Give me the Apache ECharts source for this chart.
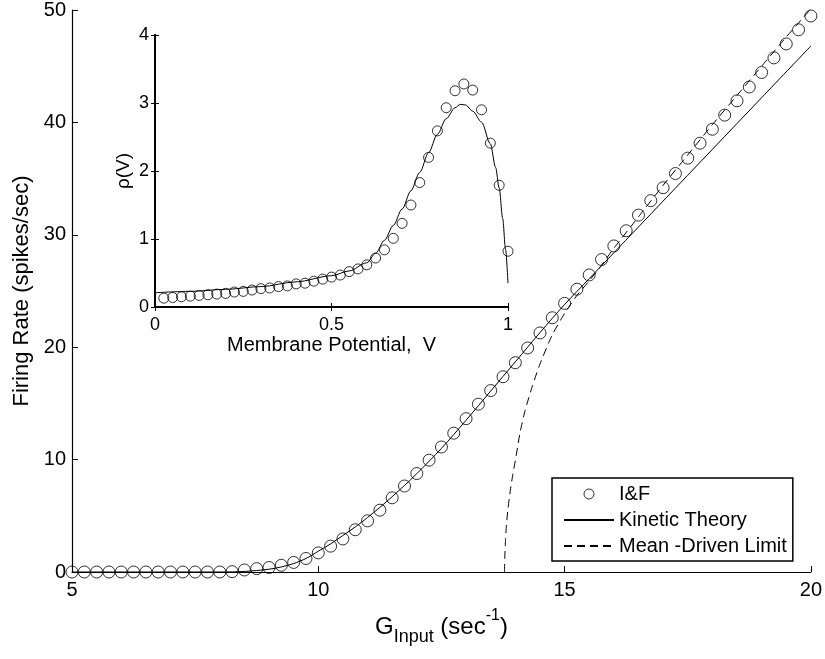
<!DOCTYPE html>
<html>
<head>
<meta charset="utf-8">
<script src="https://cdn.jsdelivr.net/npm/echarts@6/dist/echarts.min.js"></script>
<style>
  html, body { margin: 0; padding: 0; background: #fff; }
  #chart { width: 825px; height: 659px; }
</style>
</head>
<body>
<div id="chart"></div>
<script>
// main panel: I&F simulation points
const gInput = [5, 5.25, 5.5, 5.75, 6, 6.25, 6.5, 6.75, 7, 7.25, 7.5, 7.75, 8,
  8.25, 8.5, 8.75, 9, 9.25, 9.5, 9.75, 10, 10.25, 10.5, 10.75, 11, 11.25, 11.5, 11.75,
  12, 12.25, 12.5, 12.75, 13, 13.25, 13.5, 13.75, 14, 14.25, 14.5, 14.75, 15, 15.25,
  15.5, 15.75, 16, 16.25, 16.5, 16.75, 17, 17.25, 17.5, 17.75, 18, 18.25, 18.5, 18.75,
  19, 19.25, 19.5, 19.75, 20]
const ifRate = [0, 0, 0, 0, 0, 0, 0, 0, 0, 0, 0, 0, 0,
  0.03, 0.18, 0.3, 0.4, 0.6, 0.85, 1.2, 1.7, 2.3, 2.94, 3.76, 4.55, 5.5, 6.6, 7.65,
  8.76, 9.95, 11.12, 12.35, 13.64, 14.93, 16.14, 17.37, 18.62, 19.93, 21.27, 22.62, 23.9, 25.16,
  26.43, 27.8, 29.01, 30.36, 31.75, 33.04, 34.19, 35.45, 36.82, 38.15, 39.39, 40.65, 41.92, 43.15,
  44.44, 45.74, 46.98, 48.24, 49.47]

// kinetic theory curve
const kinG = [5, 8, 8.5, 9, 9.25, 9.5, 9.75, 10, 10.25, 10.5, 10.75, 11, 11.25, 11.5, 11.75,
  12, 12.5, 13, 13.5, 14, 14.5, 15, 15.5, 16, 17, 18, 19, 20]
const kinRate = [0, 0, 0.05, 0.25, 0.45, 0.75, 1.2, 1.85, 2.5, 3.25, 4.0, 4.85, 5.75, 6.7, 7.7,
  8.75, 11.0, 13.5, 16.1, 18.7, 21.3, 23.8, 26.1, 28.4, 33.0, 37.6, 42.2, 46.8]

// mean-driven limit
const mdG = [13.78, 13.785, 13.8, 13.82, 13.85, 13.9, 13.95, 14.0, 14.1, 14.2, 14.35, 14.5, 14.75,
  15.0, 15.25, 15.5, 15.75, 16.0, 16.5, 17.0, 17.5, 18.0, 18.5, 19.0, 19.5, 20.0]
const mdRate = [0, 1.2, 2.8, 4.2, 5.6, 7.3, 8.7, 9.9, 12.5, 14.4, 16.6, 18.5, 21.1,
  23.0, 24.6, 25.9, 27.3, 28.8, 31.6, 34.4, 37.1, 39.8, 42.4, 45.0, 47.6, 50.1]

// inset: density rho(V)
const vIF = [0.025, 0.05, 0.075, 0.1, 0.125, 0.15, 0.175, 0.2, 0.225, 0.25, 0.275, 0.3, 0.325, 0.35,
  0.375, 0.4, 0.425, 0.45, 0.475, 0.5, 0.525, 0.55, 0.575, 0.6, 0.625, 0.65, 0.675, 0.7, 0.725,
  0.75, 0.775, 0.8, 0.825, 0.85, 0.875, 0.9, 0.925, 0.95, 0.975, 1.0]
const rhoIF = [0.13, 0.14, 0.15, 0.16, 0.17, 0.18, 0.19, 0.20, 0.22, 0.23, 0.25, 0.27, 0.28, 0.30,
  0.31, 0.34, 0.35, 0.38, 0.41, 0.44, 0.47, 0.52, 0.56, 0.62, 0.72, 0.84, 1.01, 1.23, 1.50,
  1.83, 2.20, 2.59, 2.93, 3.18, 3.28, 3.19, 2.90, 2.41, 1.79, 0.82]
const vKin = [0, 0.1, 0.2, 0.3, 0.4, 0.5, 0.55, 0.6, 0.625, 0.65, 0.675, 0.7, 0.725, 0.75, 0.775,
  0.8, 0.825, 0.85, 0.865, 0.88, 0.9, 0.925, 0.95, 0.965, 0.975, 0.985, 0.993, 1.0]
const rhoKin = [0.21, 0.23, 0.26, 0.30, 0.37, 0.46, 0.53, 0.65, 0.79, 0.98, 1.2, 1.44, 1.71, 1.98, 2.27,
  2.54, 2.77, 2.93, 2.98, 2.97, 2.88, 2.72, 2.4, 2.05, 1.75, 1.3, 0.85, 0.35]

const pairs = (xs, ys) => xs.map((x, i) => [x, ys[i]])

const font = 'Liberation Sans, Arial, Helvetica, sans-serif'
const black = '#000'

const chart = echarts.init(document.getElementById('chart'), null, { renderer: 'canvas' })

const mainAxisCommon = {
  axisLine: { lineStyle: { color: black, width: 1.2 } },
  axisTick: { inside: true, length: 6, lineStyle: { color: black, width: 1 } },
  splitLine: { show: false },
  axisLabel: { color: black, fontSize: 20, fontFamily: font }
}
const insetAxisCommon = {
  axisLine: { lineStyle: { color: black, width: 2 } },
  axisTick: { inside: true, length: 4, lineStyle: { color: black, width: 1 } },
  splitLine: { show: false },
  axisLabel: { color: black, fontSize: 18, fontFamily: font }
}

const option = {
  animation: false,
  backgroundColor: '#fff',
  grid: [
    { left: 72, top: 5, width: 743, height: 567 },
    { left: 155, top: 35, width: 353, height: 272 }
  ],
  xAxis: [
    {
      ...mainAxisCommon, gridIndex: 0, type: 'value', min: 5, max: 20, interval: 5,
      axisLabel: { ...mainAxisCommon.axisLabel, margin: 8 },
      name: '{g|G}{sub|Input}{g| (sec}{sup|-1}{g|)}',
      nameLocation: 'middle', nameGap: 36,
      nameTextStyle: {
        color: black, fontFamily: font,
        rich: {
          g: { fontSize: 24, fontFamily: font, color: black },
          sub: { fontSize: 18, fontFamily: font, color: black, padding: [20, 0, 0, 0] },
          sup: { fontSize: 16, fontFamily: font, color: black, padding: [0, 0, 22, 0] }
        }
      }
    },
    {
      ...insetAxisCommon, gridIndex: 1, type: 'value', min: 0, max: 1, interval: 0.5,
      axisLabel: { ...insetAxisCommon.axisLabel, margin: 9 },
      name: 'Membrane Potential,  V', nameLocation: 'middle', nameGap: 28,
      nameTextStyle: { color: black, fontSize: 20, fontFamily: font }
    },
    {
      ...insetAxisCommon, gridIndex: 1, type: 'value', min: 0, max: 1, interval: 0.5,
      position: 'top', axisLabel: { show: false }
    }
  ],
  yAxis: [
    {
      ...mainAxisCommon, gridIndex: 0, type: 'value', min: 0, max: 50, interval: 10,
      axisLabel: { ...mainAxisCommon.axisLabel, margin: 6 },
      name: 'Firing Rate (spikes/sec)', nameLocation: 'middle', nameGap: 38,
      nameTextStyle: { color: black, fontSize: 22, fontFamily: font }
    },
    {
      ...insetAxisCommon, gridIndex: 1, type: 'value', min: 0, max: 4, interval: 1,
      axisLabel: { ...insetAxisCommon.axisLabel, margin: 6 },
      name: 'ρ(V)', nameLocation: 'middle', nameGap: 22,
      nameTextStyle: { color: black, fontSize: 19, fontFamily: font }
    },
    {
      ...insetAxisCommon, gridIndex: 1, type: 'value', min: 0, max: 4, interval: 1,
      position: 'right', axisLabel: { show: false }
    }
  ],
  legend: {
    data: [
      { name: 'I&F', itemStyle: { color: 'rgba(0,0,0,0)', borderColor: black, borderWidth: 1 } },
      { name: 'Kinetic Theory', itemStyle: { opacity: 0 } },
      { name: 'Mean -Driven Limit', itemStyle: { opacity: 0 } }
    ],
    orient: 'vertical',
    left: 552,
    top: 478,
    padding: [6, 6, 5, 11],
    itemWidth: 50,
    itemHeight: 10,
    itemGap: 6,
    borderColor: black,
    borderWidth: 1.5,
    backgroundColor: '#fff',
    selectedMode: false,
    textStyle: { color: black, fontSize: 20, fontFamily: font }
  },
  series: [
    {
      name: 'Kinetic Theory', type: 'line', xAxisIndex: 0, yAxisIndex: 0,
      data: pairs(kinG, kinRate), symbol: 'none', showSymbol: false, smooth: 0.3,
      lineStyle: { color: black, width: 1 }, itemStyle: { color: black }
    },
    {
      name: 'Mean -Driven Limit', type: 'line', xAxisIndex: 0, yAxisIndex: 0,
      data: pairs(mdG, mdRate), symbol: 'none', showSymbol: false, smooth: 0.2,
      lineStyle: { color: black, width: 1, type: [8, 5] }, itemStyle: { color: black }
    },
    {
      name: 'I&F', type: 'scatter', xAxisIndex: 0, yAxisIndex: 0,
      data: pairs(gInput, ifRate), symbol: 'circle', symbolSize: 12,
      itemStyle: { color: 'rgba(0,0,0,0)', borderColor: black, borderWidth: 1 }
    },
    {
      name: 'inset kinetic', type: 'line', xAxisIndex: 1, yAxisIndex: 1,
      data: pairs(vKin, rhoKin), symbol: 'none', smooth: 0.3, smoothMonotone: 'x',
      lineStyle: { color: black, width: 1 }
    },
    {
      name: 'inset I&F', type: 'scatter', xAxisIndex: 1, yAxisIndex: 1,
      data: pairs(vIF, rhoIF), symbol: 'circle', symbolSize: 10,
      itemStyle: { color: 'rgba(0,0,0,0)', borderColor: black, borderWidth: 1 }
    }
  ]
}

chart.setOption(option)
</script>
</body>
</html>
